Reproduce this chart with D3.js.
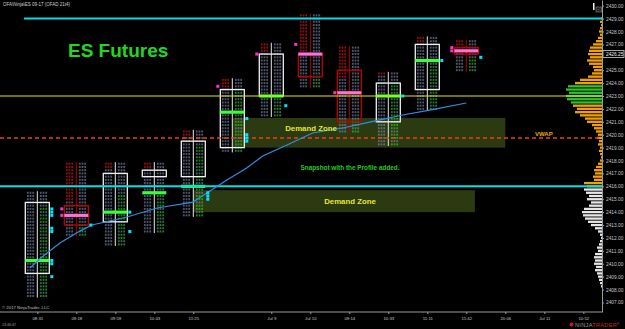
<!DOCTYPE html>
<html lang="en">
<head>
<meta charset="UTF-8" />
<title>ES Futures</title>
<script src="https://cdn.jsdelivr.net/npm/d3@7"></script>
<style>
  html, body { margin: 0; padding: 0; background: #000; }
  svg { display: block; font-family: "Liberation Sans", Arial, sans-serif; }
</style>
</head>
<body>
<div id="container"></div>
<script>
// time slots on the bottom axis ("" = slot without label)
const timeLabels = ['08:31', '09:18', '09:59', '10:43', '11:25', '', 'Jul 9', 'Jul 10', '09:14', '10:33', '11:11', '11:42', '20:06', 'Jul 11', '10:52']

// footprint bars, one per slot
const barOpen  = [2409.25, 2414.5, 2413.25, 2416.75, 2416.75, 2419.0, 2423.0, 2426.25, 2425.0, 2421.0, 2423.5, 2426.75]
const barHigh  = [2415.5, 2417.75, 2417.75, 2417.75, 2420.25, 2424.25, 2427.0, 2429.25, 2426.75, 2424.75, 2427.5, 2427.25]
const barLow   = [2407.5, 2412.25, 2411.5, 2412.5, 2413.75, 2418.75, 2421.5, 2423.75, 2420.25, 2419.25, 2422.0, 2425.0]
const barClose = [2414.75, 2413.0, 2417.0, 2417.25, 2419.5, 2423.5, 2426.25, 2424.5, 2421.0, 2424.0, 2427.0, 2426.25]
const barPoc   = [2410.25, 2413.75, 2414.0, 2415.5, 2416.0, 2421.75, 2423.0, 2426.25, 2423.25, 2423.0, 2425.75, 2426.5]
// rows of bid imbalance at the top of each bar, ask imbalance below a price
const bidImbRows    = [0, 12, 2, 2, 2, 3, 3, 13, 10, 1, 2, 3]
const askGreenBelow = [2414.5, 2413.0, 2415.5, 2416.0, 2419.0, 2423.5, 2423.0, 2424.5, 2421.0, 2424.0, 2425.75, 2426.25]

// imbalance markers: bar, price, side (1 = right/cyan, -1 = left/magenta)
const markerBar   = [0, 0, 0, 0, 0, 0, 0, 0, 1, 1, 1, 2, 2, 4, 4, 4, 5, 5, 5, 5, 5, 6, 6, 7, 8, 9, 10, 11, 11, 11]
const markerPrice = [2414.25, 2414.0, 2413.75, 2412.75, 2412.5, 2410.25, 2410.0, 2409.0, 2414.25, 2413.75, 2413.0, 2414.0, 2412.5, 2415.5, 2415.25, 2415.0, 2421.25, 2420.0, 2419.75, 2419.5, 2423.75, 2426.25, 2422.25, 2427.0, 2423.25, 2423.0, 2425.75, 2426.75, 2426.5, 2426.0]
const markerSide  = [1, 1, 1, 1, 1, 1, 1, 1, -1, -1, 1, 1, 1, 1, 1, 1, 1, 1, 1, 1, -1, -1, 1, -1, -1, 1, 1, -1, -1, 1]

// blue average line: slot position, price
const avgSlot  = [-0.19, 0.12, 0.58, 1.09, 1.40, 2.30, 3.07, 3.99, 4.35, 4.86, 5.37, 5.78, 6.40, 7.06, 7.83, 8.52, 9.37, 10.06, 11.0]
const avgPrice = [2409.67, 2410.52, 2411.6, 2412.53, 2413.0, 2413.62, 2414.32, 2414.78, 2415.48, 2416.49, 2417.42, 2418.35, 2419.2, 2420.13, 2420.52, 2420.98, 2421.53, 2421.91, 2422.46]

// demand zones
const zoneStart  = [5.0, 4.0]
const zoneEnd    = [12.0, 11.22]
const zoneTop    = [2421.3, 2415.7]
const zoneBottom = [2419.0, 2414.0]

// horizontal levels
const cyanLevels = [2429.0, 2416.0]
const cyanStart  = [-0.34, -0.96]
const yellowLevel = 2423.0
const vwapLevel = 2419.75

// price axis
const priceTicks = [2407, 2408, 2409, 2410, 2411, 2412, 2413, 2414, 2415, 2416, 2417, 2418, 2419, 2420, 2421, 2422, 2423, 2424, 2425, 2427, 2428, 2429, 2430]
const lastPrice = 2426.25

// volume profile: [price, volume]
const profile = [
  [2429.0, 100], [2428.75, 200], [2428.5, 100], [2428.25, 200], [2428.0, 300], [2427.75, 200],
  [2427.5, 400], [2427.25, 600], [2427.0, 900], [2426.75, 1200], [2426.5, 1300], [2426.25, 1400],
  [2426.0, 1200], [2425.75, 1500], [2425.5, 1300], [2425.25, 900], [2425.0, 800], [2424.75, 1000],
  [2424.5, 1400], [2424.25, 2200], [2424.0, 2700], [2423.75, 3400], [2423.5, 3600], [2423.25, 3300],
  [2423.0, 3600], [2422.75, 3500], [2422.5, 3100], [2422.25, 2900], [2422.0, 2500], [2421.75, 2700],
  [2421.5, 2200], [2421.25, 1700], [2421.0, 1500], [2420.75, 1000], [2420.5, 800], [2420.25, 600],
  [2420.0, 400], [2419.75, 500], [2419.5, 300], [2419.25, 400], [2419.0, 200], [2418.75, 300],
  [2418.5, 200], [2418.25, 100], [2418.0, 200], [2417.75, 400], [2417.5, 600], [2417.25, 800],
  [2417.0, 700], [2416.75, 900], [2416.5, 800], [2416.25, 1800], [2416.0, 1500],
  [2415.75, 1800], [2415.5, 1600], [2415.25, 1300], [2415.0, 1500], [2414.75, 1100], [2414.5, 1300],
  [2414.25, 1800], [2414.0, 2000], [2413.75, 1900], [2413.5, 1700], [2413.25, 1400], [2413.0, 1100],
  [2412.75, 700], [2412.5, 400], [2412.25, 200], [2412.0, 100], [2411.75, 200], [2411.5, 300],
  [2411.25, 500], [2411.0, 400], [2410.75, 700], [2410.5, 800], [2410.25, 700], [2410.0, 800],
  [2409.75, 600], [2409.5, 700], [2409.25, 500], [2409.0, 400], [2408.75, 300], [2408.5, 200], [2408.25, 100]
]

const width = 625
const height = 329
const axisX = 602
const axisY = 312

const yS = d3.scaleLinear().domain([2406.26, 2430.44]).range([axisY, 0])
const xS = d3.scaleLinear().domain([0, 14]).range([37.3, 583.3])
const vS = d3.scaleLinear().domain([0, 4000]).range([0, 40])

const svg = d3.select('#container').append('svg')
  .attr('width', width)
  .attr('height', height)
  .attr('viewBox', [0, 0, width, height])

svg.append('rect').attr('width', width).attr('height', height).attr('fill', '#000')

// demand zones
svg.append('g').selectAll('rect')
  .data(zoneStart)
  .join('rect')
  .attr('x', (d) => xS(d))
  .attr('width', (d, i) => xS(zoneEnd[i]) - xS(d))
  .attr('y', (d, i) => yS(zoneTop[i]))
  .attr('height', (d, i) => yS(zoneBottom[i]) - yS(zoneTop[i]))
  .attr('fill', '#2b3a10')

// volume profile
const pColor = (p) => p < 2416 ? '#e6e6e6' : (p >= 2422.5 && p <= 2423.75 ? '#2fbf2f' : '#f2a000')
svg.append('g').selectAll('rect')
  .data(profile)
  .join('rect')
  .attr('x', (d) => axisX - vS(d[1]))
  .attr('y', (d) => yS(d[0]) - 1.15)
  .attr('width', (d) => vS(d[1]))
  .attr('height', 2.3)
  .attr('fill', (d) => pColor(d[0]))

// footprint bars
const fp = svg.append('g')
barOpen.forEach((o, i) => {
  const h = barHigh[i], l = barLow[i], c = barClose[i]
  const cx = xS(i)
  const up = c >= o
  const g = fp.append('g')
  const levels = d3.range(l, h + 0.01, 0.25)

  g.append('line')
    .attr('x1', cx).attr('x2', cx)
    .attr('y1', yS(h) - 1.6).attr('y2', yS(l) + 1.6)
    .attr('stroke', up ? '#e8e8e8' : '#b00000')
    .attr('stroke-width', 1)

  levels.forEach((p, k) => {
    const y = yS(p)
    const fromTop = Math.round((h - p) / 0.25)
    const left = fromTop < bidImbRows[i] ? '#e01818' : '#7f8aac'
    const right = (p <= askGreenBelow[i] && k % 3 !== 1) ? '#2bd42b' : '#7f8aac'
    ;[[cx - 10.4, left], [cx + 2.6, right]].forEach(([x0, col]) => {
      for (let d = 0; d < 3; d++) {
        g.append('rect')
          .attr('x', x0 + d * 2.7).attr('y', y - 1.0)
          .attr('width', 1.8).attr('height', 2.0)
          .attr('fill', col).attr('opacity', 0.62)
      }
    })
  })

  // body box
  g.append('rect')
    .attr('x', cx - 12).attr('width', 24)
    .attr('y', yS(Math.max(o, c)))
    .attr('height', Math.max(2, yS(Math.min(o, c)) - yS(Math.max(o, c))))
    .attr('fill', 'none')
    .attr('stroke', up ? '#f0f0f0' : '#c00000')
    .attr('stroke-width', 1.3)

  // point of control
  g.append('rect')
    .attr('x', cx - 12).attr('width', 24)
    .attr('y', yS(barPoc[i]) - 1.6).attr('height', 3.2)
    .attr('fill', up ? '#3cff3c' : '#ff70d8')
})

// horizontal levels
svg.append('g').selectAll('line')
  .data(cyanLevels)
  .join('line')
  .attr('x1', (d, i) => xS(cyanStart[i])).attr('x2', axisX)
  .attr('y1', (d) => yS(d)).attr('y2', (d) => yS(d))
  .attr('stroke', '#00e0e8').attr('stroke-width', 2)

svg.append('line')
  .attr('x1', 0).attr('x2', axisX)
  .attr('y1', yS(yellowLevel)).attr('y2', yS(yellowLevel))
  .attr('stroke', '#e8e800').attr('stroke-width', 1.2)

svg.append('line')
  .attr('x1', 0).attr('x2', axisX)
  .attr('y1', yS(vwapLevel)).attr('y2', yS(vwapLevel))
  .attr('stroke', '#f04010').attr('stroke-width', 1.4)
  .attr('stroke-dasharray', '4,3')

// blue average line
svg.append('path')
  .datum(avgSlot.map((s, i) => [s, avgPrice[i]]))
  .attr('d', d3.line().x((d) => xS(d[0])).y((d) => yS(d[1])))
  .attr('fill', 'none')
  .attr('stroke', '#2d8fe6')
  .attr('stroke-width', 1.2)

// imbalance markers
svg.append('g').selectAll('rect')
  .data(markerBar)
  .join('rect')
  .attr('x', (d, i) => markerSide[i] > 0 ? xS(d) + 13 : xS(d) - 16)
  .attr('y', (d, i) => yS(markerPrice[i]) - 1.5)
  .attr('width', 3).attr('height', 3)
  .attr('fill', (d, i) => markerSide[i] > 0 ? '#00e5ff' : '#ff30c8')

// right price axis
const yAxis = svg.append('g')
  .attr('transform', `translate(${axisX},0)`)
  .call(d3.axisRight(yS).tickValues(priceTicks).tickSize(2).tickSizeOuter(0).tickFormat(d3.format('.2f')))
yAxis.select('.domain').attr('stroke', '#9a9a9a')
yAxis.selectAll('.tick line').attr('stroke', '#9a9a9a')
yAxis.selectAll('.tick text').attr('fill', '#c8c8c8').attr('font-size', 4.8).attr('x', 4)

// last price box
svg.append('rect')
  .attr('x', axisX + 1).attr('y', yS(lastPrice) - 3.5)
  .attr('width', 21).attr('height', 7)
  .attr('fill', '#000').attr('stroke', '#d0d0d0').attr('stroke-width', 0.8)
svg.append('text')
  .attr('x', axisX + 4).attr('y', yS(lastPrice) + 1.7)
  .attr('fill', '#f0f0f0').attr('font-size', 4.8)
  .text(d3.format('.2f')(lastPrice))

// bottom time axis
svg.append('line')
  .attr('x1', 0).attr('x2', axisX)
  .attr('y1', axisY).attr('y2', axisY)
  .attr('stroke', '#9a9a9a')
const xTicks = timeLabels.map((t, i) => i).filter((i) => timeLabels[i] !== '')
const xAxis = svg.append('g')
  .attr('transform', `translate(0,${axisY})`)
  .call(d3.axisBottom(xS).tickValues(xTicks).tickSize(2).tickSizeOuter(0).tickFormat((i) => timeLabels[i]))
xAxis.select('.domain').remove()
xAxis.selectAll('.tick line').attr('stroke', '#9a9a9a')
xAxis.selectAll('.tick text').attr('fill', '#c8c8c8').attr('font-size', 4.3).attr('y', 5)

// current bar marker, top right
svg.append('rect').attr('x', 593).attr('y', 3).attr('width', 1.5).attr('height', 7).attr('fill', '#f0f0f0')
svg.append('rect').attr('x', 596).attr('y', 7).attr('width', 5.5).attr('height', 5)
  .attr('fill', '#222').attr('stroke', '#888').attr('stroke-width', 0.6)
svg.append('rect').attr('x', 598).attr('y', 9).attr('width', 1.2).attr('height', 1.2).attr('fill', '#e02020')

// texts
svg.append('text').attr('x', 3).attr('y', 6.3)
  .attr('fill', '#cfcfcf').attr('font-size', 4.5)
  .text('OFA\\Ninja\\ES 09-17 (OFAD 21t4)')

svg.append('text').attr('x', 68).attr('y', 57)
  .attr('fill', '#1fd81f').attr('font-size', 19).attr('font-weight', 'bold')
  .text('ES Futures')

svg.append('text').attr('x', 311).attr('y', 131)
  .attr('text-anchor', 'middle')
  .attr('fill', '#e8e820').attr('font-size', 7.8).attr('font-weight', 'bold')
  .text('Demand Zone')

svg.append('text').attr('x', 350).attr('y', 204)
  .attr('text-anchor', 'middle')
  .attr('fill', '#e8e820').attr('font-size', 7.8).attr('font-weight', 'bold')
  .text('Demand Zone')

svg.append('text').attr('x', 350).attr('y', 170)
  .attr('text-anchor', 'middle')
  .attr('fill', '#22cc22').attr('font-size', 6.4).attr('font-weight', 'bold')
  .text('Snapshot with the Profile added.')

svg.append('text').attr('x', 535).attr('y', 136)
  .attr('fill', '#f0a800').attr('font-size', 6).attr('font-weight', 'bold')
  .text('VWAP')

svg.append('text').attr('x', 2).attr('y', 309)
  .attr('fill', '#c0c0c0').attr('font-size', 4.3)
  .text('\u00a9 2017 NinjaTrader, LLC')

svg.append('text').attr('x', 2).attr('y', 326)
  .attr('fill', '#a0a0a0').attr('font-size', 3.6)
  .text('13:46:47')

// NinjaTrader logo
svg.append('circle').attr('cx', 571.5).attr('cy', 324.5).attr('r', 2).attr('fill', '#c02020')
const logo = svg.append('text').attr('x', 575).attr('y', 327)
  .attr('font-size', 5.6).attr('letter-spacing', 0.3)
logo.append('tspan').attr('fill', '#9a9a9a').text('NINJA')
logo.append('tspan').attr('fill', '#d42020').text('TRADER')
logo.append('tspan').attr('fill', '#9a9a9a').attr('font-size', 3).attr('dy', -2).text('\u00ae')
</script>
</body>
</html>
